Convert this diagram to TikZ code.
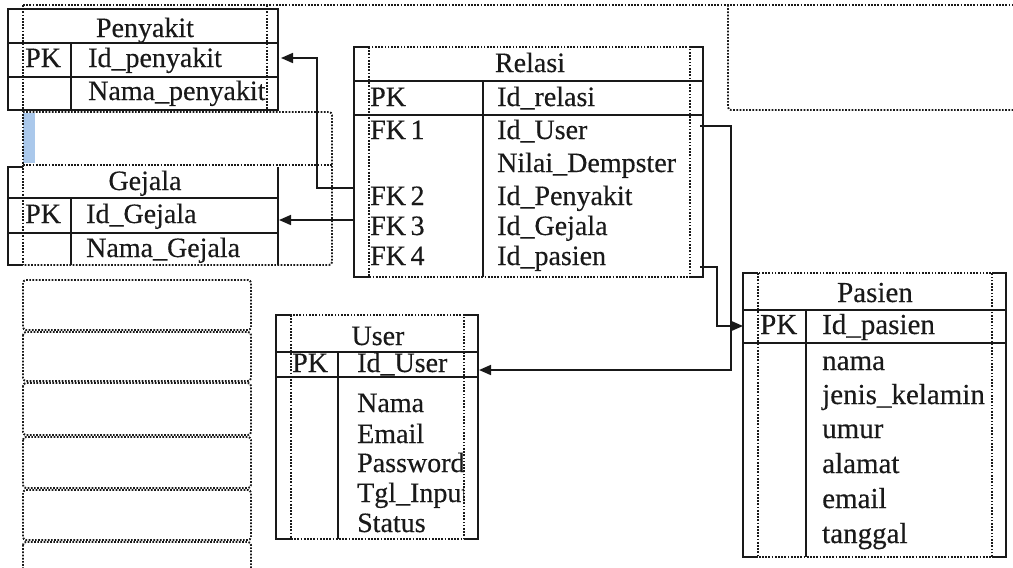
\documentclass[tikz,border=0pt]{standalone}
\usepackage{fontspec}
\setmainfont{Liberation Serif}[FakeBold=0.35]
\usetikzlibrary{arrows.meta}

\begin{document}
\begin{tikzpicture}[x=1pt,y=-1pt,
  frame/.style={line width=1.9pt, draw=black!90, line join=miter},
  dots/.style={line width=1.9pt, draw=black!90, dash pattern=on 1.7pt off 1.5pt},
  txt/.style={inner sep=0pt, anchor=base west, font=\fontsize{28}{30}\selectfont, text=black!90},
  ttl/.style={txt, anchor=base},
  bigtxt/.style={txt, font=\fontsize{29}{31}\selectfont},
  bigttl/.style={bigtxt, anchor=base},
  fk/.style={line width=1.7pt, draw=black!90, -{Triangle[length=12pt,width=10pt]}},
  hint/.style={fill={rgb,255:red,170;green,200;blue,235}, draw=none},
]
\useasboundingbox (0,0) rectangle (1013,568);

% ---------- frames of the text boxes ----------
\fill[hint] (23,113) rectangle (35,163);
\draw[dots] (23,5) -- (1013,5);
\draw[dots] (23,5) -- (23,265);
\draw[dots] (267,5) -- (267,112);
\draw[dots, rounded corners=3pt] (23,112) -- (332,112) -- (332,265) -- (23,265);
\draw[dots] (23,165) -- (332,165);
\draw[dots, rounded corners=3pt] (728,5) -- (728,110) -- (1013,110);
% empty boxes, lower left
\foreach \ya/\yb in {280/330, 332/381, 383/435, 437/488, 490/540, 542/580}
  \draw[dots, rounded corners=3pt] (23,\ya) rectangle (251,\yb);

% ---------- Penyakit ----------
\draw[frame] (8,9) rectangle (278,110);
\draw[frame] (8,43) -- (278,43) (8,77) -- (278,77) (71,43) -- (71,110);
\node[ttl] (pny-title) at (145,37) {Penyakit};
\node[txt] (pny-pk) at (25,67) {PK};
\node[txt] (pny-id) at (88,67) {Id\_penyakit};
\begin{scope}
  \clip (23,77) rectangle (267,110);
  \node[txt] (pny-nama) at (88,100) {Nama\_penyakit};
\end{scope}

% ---------- Gejala ----------
\draw[frame] (23,167) -- (8,167) -- (8,265) -- (23,265);
\draw[frame] (278,167) -- (278,265);
\draw[frame] (8,198) -- (278,198) (8,233) -- (278,233) (71,198) -- (71,265);
\node[ttl] (gej-title) at (145,190) {Gejala};
\node[txt] (gej-pk) at (25,223) {PK};
\node[txt] (gej-id) at (86,223) {Id\_Gejala};
\node[txt] (gej-nama) at (86,257) {Nama\_Gejala};

% ---------- Relasi ----------
\draw[frame] (369,47) -- (354,47) -- (354,277) -- (369,277);
\draw[frame] (690,47) -- (703,47) -- (703,277) -- (690,277);
\draw[frame] (354,81) -- (703,81) (354,115) -- (703,115) (483,81) -- (483,277);
\draw[dots] (369,47) rectangle (690,277);
\node[ttl] (rel-title) at (530,72) {Relasi};
\node[txt] (rel-pk) at (370,106) {PK};
\node[txt] (rel-id) at (497,106) {Id\_relasi};
\node[txt] (rel-k1) at (370,139) {FK\,1};
\node[txt] (rel-user) at (497,139) {Id\_User};
\node[txt] (rel-nilai) at (497,172) {Nilai\_Dempster};
\node[txt] (rel-k2) at (370,205) {FK\,2};
\node[txt] (rel-pny) at (497,205) {Id\_Penyakit};
\node[txt] (rel-k3) at (370,235) {FK\,3};
\node[txt] (rel-gej) at (497,235) {Id\_Gejala};
\node[txt] (rel-k4) at (370,265) {FK\,4};
\node[txt] (rel-pas) at (497,265) {Id\_pasien};

% ---------- User ----------
\draw[frame] (291,315) -- (276,315) -- (276,539) -- (291,539);
\draw[frame] (464,315) -- (478,315) -- (478,539) -- (464,539);
\draw[frame] (276,352) -- (478,352) (276,377) -- (478,377) (338,352) -- (338,539);
\draw[dots] (291,315) rectangle (464,539);
\node[ttl] (usr-title) at (378,345) {User};
\node[txt] (usr-pk) at (292,372) {PK};
\node[txt] (usr-id) at (357,372) {Id\_User};
\begin{scope}
  \clip (338,377) rectangle (464,539);
  \node[txt] (usr-nama) at (357,412) {Nama};
  \node[txt] (usr-email) at (357,443) {Email};
  \node[txt] (usr-pass) at (357,472) {Password};
  \node[txt] (usr-tgl) at (357,502) {Tgl\_Input};
  \node[txt] (usr-status) at (357,532) {Status};
\end{scope}

% ---------- Pasien ----------
\draw[frame] (758,273) -- (743,273) -- (743,557) -- (758,557);
\draw[frame] (992,273) -- (1006,273) -- (1006,557) -- (992,557);
\draw[frame] (743,310) -- (1006,310) (743,343) -- (1006,343) (806,310) -- (806,557);
\draw[dots] (758,273) rectangle (992,557);
\node[bigttl] (pas-title) at (875,302) {Pasien};
\node[bigtxt] (pas-pk) at (760,334) {PK};
\node[bigtxt] (pas-id) at (822,334) {Id\_pasien};
\node[bigtxt] (pas-nama) at (822,370) {nama};
\node[bigtxt] (pas-jk) at (822,404) {jenis\_kelamin};
\node[bigtxt] (pas-umur) at (822,438) {umur};
\node[bigtxt] (pas-alamat) at (822,473) {alamat};
\node[bigtxt] (pas-email) at (822,508) {email};
\node[bigtxt] (pas-tgl) at (822,543) {tanggal};

% ---------- foreign keys ----------
\coordinate (rel-out-pny) at (354,188);
\coordinate (pny-in) at (281,58);
\coordinate (rel-out-gej) at (354,220);
\coordinate (gej-in) at (279,220);
\coordinate (rel-out-usr) at (700,126);
\coordinate (usr-in) at (479,370);
\coordinate (rel-out-pas) at (700,267);
\coordinate (pas-in) at (743,326);

\draw[fk] (rel-out-pny) -- ++(-37,0) |- (pny-in);
\draw[fk] (rel-out-gej) -- (gej-in);
\draw[fk] (rel-out-usr) -- ++(31,0) |- (usr-in);
\draw[fk] (rel-out-pas) -- ++(17,0) |- (pas-in);
\end{tikzpicture}
\end{document}
